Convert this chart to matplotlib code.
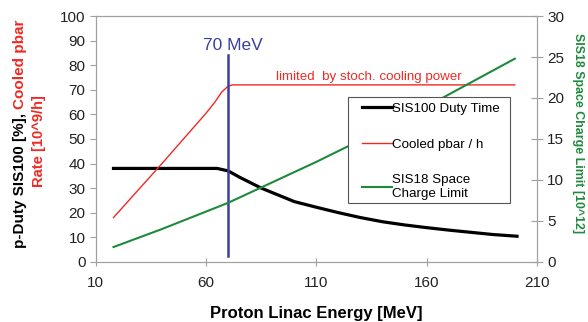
import matplotlib
matplotlib.use("Agg")
import matplotlib.pyplot as plt
from matplotlib.patches import Rectangle

plt.rcParams["font.family"] = ["Liberation Sans", "DejaVu Sans"]

# proton linac energy [MeV]
duty_x = [18, 30, 50, 65, 70, 75, 85, 100, 110, 120, 130, 140, 150, 160, 170, 180, 190, 201]
duty_y = [38, 38, 38, 38, 37, 34.5, 30, 24.5, 22.2, 20, 18, 16.3, 15, 13.9, 12.9, 12, 11.1, 10.4]

pbar_x = [18, 40, 60, 64, 67, 70, 72, 200]
pbar_y = [18, 40, 60.5, 65, 69, 71.5, 72, 72]

sc_x = [18, 40, 70, 110, 150, 200]
sc_y = [1.8, 4.0, 7.2, 12.2, 17.5, 24.8]

marker_energy = 70

RED = "#ee2a24"
GREEN = "#1f8a3d"
BLUE = "#3b3f9e"
GRAY = "#a0a0a0"

fig = plt.figure(figsize=(5.88, 3.22), dpi=100)
ax = fig.add_axes([0.163, 0.187, 0.750, 0.763])
ax2 = ax.twinx()

l1, = ax.plot(duty_x, duty_y, color="black", lw=2.3, label="SIS100 Duty Time")
l2, = ax.plot(pbar_x, pbar_y, color=RED, lw=1.0, label="Cooled pbar / h")
ax.plot([marker_energy, marker_energy], [2.5, 84], color=BLUE, lw=1.8)
ax.text(72, 88, "70 MeV", color=BLUE, fontsize=12.5, ha="center", va="center")
ax.text(133.6, 72.6, "limited  by stoch. cooling power", color=RED, fontsize=9.6,
        ha="center", va="bottom")
l3, = ax2.plot(sc_x, sc_y, color=GREEN, lw=1.5, label="SIS18 Space\nCharge Limit")

ax.set_xlim(10, 210)
ax.set_ylim(0, 100)
ax2.set_ylim(0, 30)
ax.set_xticks([10, 60, 110, 160, 210])
ax.set_yticks(range(0, 101, 10))
ax2.set_yticks(range(0, 31, 5))

for a in (ax, ax2):
    for s in a.spines.values():
        s.set_color(GRAY)
ax.tick_params(axis="both", direction="out", length=4, color=GRAY, labelsize=11,
               labelcolor="#222222")
ax.tick_params(axis="x", direction="inout", length=6, pad=7)
ax2.tick_params(axis="y", direction="inout", length=8, color=GRAY, labelsize=11,
                labelcolor="#222222")

fig.text(0.537, 0.004, "Proton Linac Energy [MeV]", ha="center", va="bottom",
         fontsize=12, fontweight="bold")

# legend box drawn by hand so the padding can be wider than tall
ax2.add_patch(Rectangle((0.571, 0.239), 0.368, 0.431, transform=ax2.transAxes,
                        facecolor="white", edgecolor="#555555", lw=0.8, zorder=4))
leg = ax2.legend(handles=[l1, l2, l3], loc="upper left", bbox_to_anchor=(0.603, 0.648),
                 fontsize=9.6, frameon=False, borderpad=0, labelspacing=1.75,
                 handlelength=2.25, handletextpad=0.05, borderaxespad=0)
leg.set_zorder(5)

# left label: mixed colour, two lines
renderer = fig.canvas.get_renderer()
t1 = fig.text(0.034, 0.23, "p-Duty SIS100 [%], ", rotation=90, ha="center", va="bottom",
              fontsize=11, fontweight="bold", color="black")
bb = t1.get_window_extent(renderer)
fig.text(0.034, bb.y1 / fig.bbox.height, "Cooled pbar", rotation=90, ha="center",
         va="bottom", fontsize=11, fontweight="bold", color=RED)
fig.text(0.066, 0.562, "Rate [10^9/h]", rotation=90, ha="center", va="center",
         fontsize=10.6, fontweight="bold", color=RED)

fig.text(0.983, 0.588, "SIS18 Space Charge Limit [10^12]", rotation=270, ha="center",
         va="center", fontsize=8.9, fontweight="bold", color=GREEN)

fig.savefig("out.png", dpi=100)
